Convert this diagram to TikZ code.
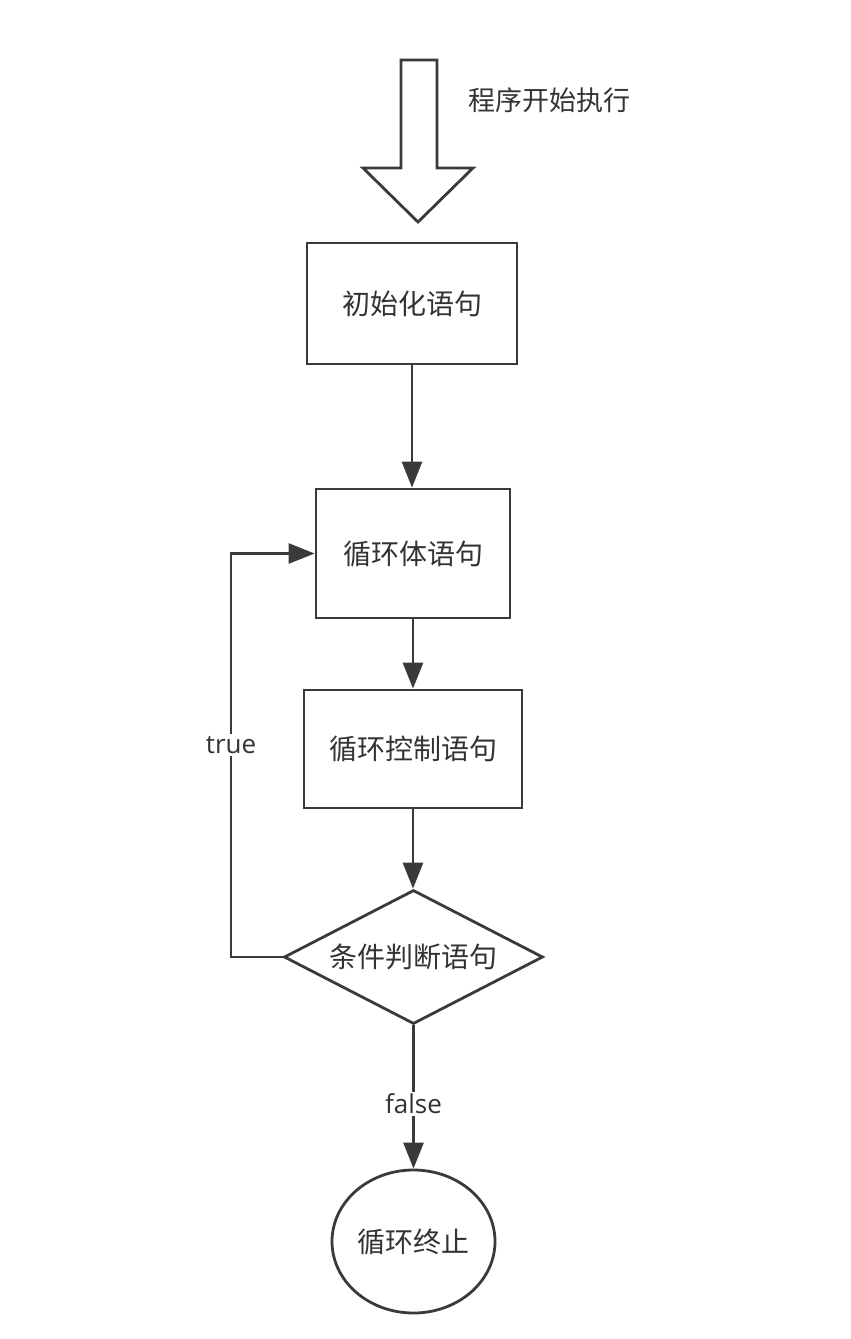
\documentclass[tikz,border=0pt]{standalone}
\usepackage{fontspec}
\setmainfont{Open Sans}
\newfontfamily\cjk{Noto Sans CJK SC}
\usetikzlibrary{shapes.geometric,arrows.meta}
\definecolor{ln}{HTML}{3A3A3A}
\definecolor{tx}{HTML}{333333}
\tikzset{
  box/.style={draw=ln, line width=2.8pt, rectangle, inner sep=0pt, text=tx, font=\cjk\fontsize{28}{32}\selectfont},
  cond/.style={draw=ln, line width=2.8pt, diamond, aspect=1.93, inner sep=0pt, text=tx, font=\cjk\fontsize{28}{32}\selectfont},
  term/.style={draw=ln, line width=2.8pt, ellipse, inner sep=0pt, text=tx, font=\cjk\fontsize{28}{32}\selectfont},
  arr/.style={draw=ln, line width=2.8pt, -{Triangle[length=26pt,width=20pt]}},
  lbl/.style={fill=white, inner sep=2pt, text=tx, font=\fontsize{26}{30}\selectfont}
}
\begin{document}
\begin{tikzpicture}[x=1pt,y=-1pt]
\useasboundingbox (0,0) rectangle (851,1339);
% start arrow
\draw[ln, line width=2.8pt, line join=miter, fill=white]
  (401,60) -- (437,60) -- (437,168) -- (473,168) -- (418,222) -- (363,168) -- (401,168) -- cycle;
\node[anchor=west, text=tx, font=\cjk\fontsize{27}{32}\selectfont] (startlbl) at (465,100) {程序开始执行};
% nodes
\node[box, minimum width=210pt, minimum height=121pt] (b1) at (412,303.5) {初始化语句};
\node[box, minimum width=194pt, minimum height=129pt] (b2) at (413,553.5) {循环体语句};
\node[box, minimum width=218pt, minimum height=118pt] (b3) at (413,749) {循环控制语句};
\node[cond, minimum width=259pt, minimum height=134pt] (dia) at (413.5,957) {条件判断语句};
\node[term, minimum width=163pt, minimum height=143pt] (end) at (413.5,1241.5) {循环终止};
\coordinate (lp) at (231,745);
% connectors
\draw[arr] (b1.south) -- (b1.south |- b2.north);
\draw[arr] (b2.south) -- (b2.south |- b3.north);
\draw[arr] (b3.south) -- (b3.south |- dia.north);
\draw[arr] (dia.west) -- (dia.west -| lp) |- (b2.west);
\node[lbl] (truelbl) at (lp) {true};
\draw[arr] (dia.south) -- (end.north) node[lbl, pos=0.55] (falselbl) {false};
\end{tikzpicture}
\end{document}
